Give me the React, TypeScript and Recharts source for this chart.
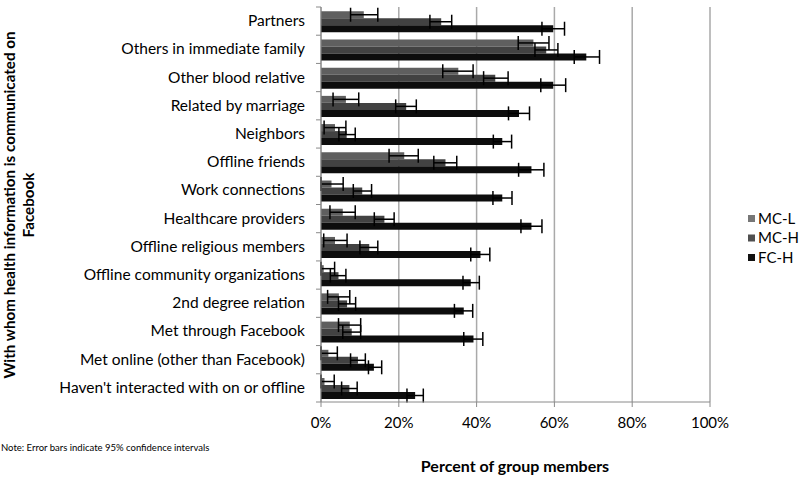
import React from 'react';
import { BarChart, Bar, XAxis, YAxis, CartesianGrid, ErrorBar } from 'recharts';

const categories = [
  'Partners',
  'Others in immediate family',
  'Other blood relative',
  'Related by marriage',
  'Neighbors',
  'Offline friends',
  'Work connections',
  'Healthcare providers',
  'Offline religious members',
  'Offline community organizations',
  '2nd degree relation',
  'Met through Facebook',
  'Met online (other than Facebook)',
  "Haven't interacted with on or offline",
];

// MC-L
const mcl = [11.0, 54.6, 35.3, 6.4, 3.6, 21.4, 2.7, 5.6, 3.6, 0.7, 4.6, 7.4, 1.9, 0.9];
const mclLow = [7.6, 50.7, 31.3, 3.1, 0.8, 17.5, 0, 2.3, 0.7, 0, 1.7, 4.5, 0, 0];
const mclHigh = [14.6, 58.6, 39.1, 9.7, 6.4, 25.0, 5.7, 8.8, 6.7, 3.5, 7.4, 10.2, 4.2, 3.4];

// MC-H
const mch = [30.9, 57.9, 44.8, 21.9, 6.6, 32.0, 10.6, 16.3, 12.4, 4.5, 6.7, 7.9, 9.5, 7.3];
const mchLow = [28.0, 55.0, 41.8, 19.2, 4.6, 29.0, 8.3, 13.7, 10.0, 2.4, 4.5, 5.6, 7.6, 5.3];
const mchHigh = [33.6, 60.9, 48.1, 24.5, 8.8, 34.9, 13.0, 18.8, 14.6, 6.4, 8.9, 10.2, 11.4, 9.3];

// FC-H
const fch = [59.7, 68.2, 59.7, 50.9, 46.6, 54.1, 46.6, 54.1, 41.0, 38.5, 36.7, 39.2, 13.6, 24.2];
const fchLow = [56.8, 65.1, 56.5, 48.2, 44.3, 50.8, 44.2, 51.4, 38.5, 36.5, 34.3, 36.7, 12.2, 22.1];
const fchHigh = [62.6, 71.6, 62.9, 53.6, 49.0, 57.3, 49.1, 56.8, 43.4, 40.7, 39.0, 41.6, 15.6, 26.3];

const xTicks = [0, 20, 40, 60, 80, 100];

const series = [
  { key: 'mcl', name: 'MC-L', color: '#5f5f5f', legend: '#777777' },
  { key: 'mch', name: 'MC-H', color: '#424242', legend: '#505050' },
  { key: 'fch', name: 'FC-H', color: '#0d0d0d', legend: '#111111' },
];

// error deltas are [below, above] the bar value
const data = categories.map((name, i) => ({
  name,
  mcl: mcl[i],
  mclErr: [mcl[i] - mclLow[i], mclHigh[i] - mcl[i]],
  mch: mch[i],
  mchErr: [mch[i] - mchLow[i], mchHigh[i] - mch[i]],
  fch: fch[i],
  fchErr: [fch[i] - fchLow[i], fchHigh[i] - fch[i]],
}));

const font = 'Lato, "Open Sans", sans-serif';
const W = 800;
const H = 481;
const M = { top: 7, right: 90, bottom: 49, left: 0 };
const X_AXIS_H = 30;
const band = (H - M.top - M.bottom - X_AXIS_H) / categories.length;

// category label plus the small Excel-style tick marks on the band edges
const CatTick = (props: any) => {
  const { x, y, payload, index } = props;
  const axisX = x + 16;
  return (
    <g>
      <line x1={axisX - 5} x2={axisX} y1={y - band / 2} y2={y - band / 2} stroke="#8a8a8a" />
      {index === categories.length - 1 && (
        <line x1={axisX - 5} x2={axisX} y1={y + band / 2} y2={y + band / 2} stroke="#8a8a8a" />
      )}
      <text x={x} y={y} dy={5} textAnchor="end" fontSize={15.5} fontFamily={font} fill="#000">
        {payload.value}
      </text>
    </g>
  );
};

export default function App() {
  return (
    <div style={{ position: 'absolute', left: 0, top: 0, width: W, height: H, background: '#fff', fontFamily: font }}>
      <BarChart
        width={W}
        height={H}
        data={data}
        layout="vertical"
        margin={M}
        barCategoryGap="15%"
        barGap={0}
      >
        <CartesianGrid horizontal={false} stroke="#a9a9a9" strokeWidth={1.5} />
        <XAxis
          type="number"
          domain={[0, 100]}
          ticks={xTicks}
          tickFormatter={(v) => `${v}%`}
          stroke="#8a8a8a"
          height={X_AXIS_H}
          tickSize={5}
          tickMargin={10}
          tick={{ fill: '#000', fontSize: 15, fontFamily: font }}
        />
        <YAxis
          type="category"
          dataKey="name"
          width={321}
          stroke="#8a8a8a"
          tickLine={false}
          tickSize={8}
          tickMargin={8}
          interval={0}
          tick={<CatTick />}
        />
        {series.map((s) => (
          <Bar key={s.key} dataKey={s.key} name={s.name} fill={s.color} isAnimationActive={false}>
            <ErrorBar dataKey={`${s.key}Err`} direction="x" width={7} stroke="#000" strokeWidth={1.5} />
          </Bar>
        ))}
      </BarChart>

      <svg width={W} height={H} style={{ position: 'absolute', left: 0, top: 0, pointerEvents: 'none' }}>
        <g transform="translate(10, 205) rotate(-90)">
          <text x={0} y={5} textAnchor="middle" fontSize={15.2} fontWeight="bold" fontFamily={font} fill="#000">
            With whom health information is communicated on
          </text>
          <text x={0} y={24} textAnchor="middle" fontSize={15.2} fontWeight="bold" fontFamily={font} fill="#000">
            Facebook
          </text>
        </g>
        <text x={515} y={472} textAnchor="middle" fontSize={16} fontWeight="bold" fontFamily={font} fill="#000">
          Percent of group members
        </text>
        <text x={1} y={451} fontSize={9.5} fontFamily={font} fill="#000">
          Note: Error bars indicate 95% confidence intervals
        </text>
        {series.map((s, i) => (
          <g key={s.key} transform={`translate(748, ${219 + i * 19.5})`}>
            <rect x={0} y={-4} width={7} height={7} fill={s.legend} />
            <text x={10} y={4.5} fontSize={15} fontFamily={font} fill="#000">
              {s.name}
            </text>
          </g>
        ))}
      </svg>
    </div>
  );
}
